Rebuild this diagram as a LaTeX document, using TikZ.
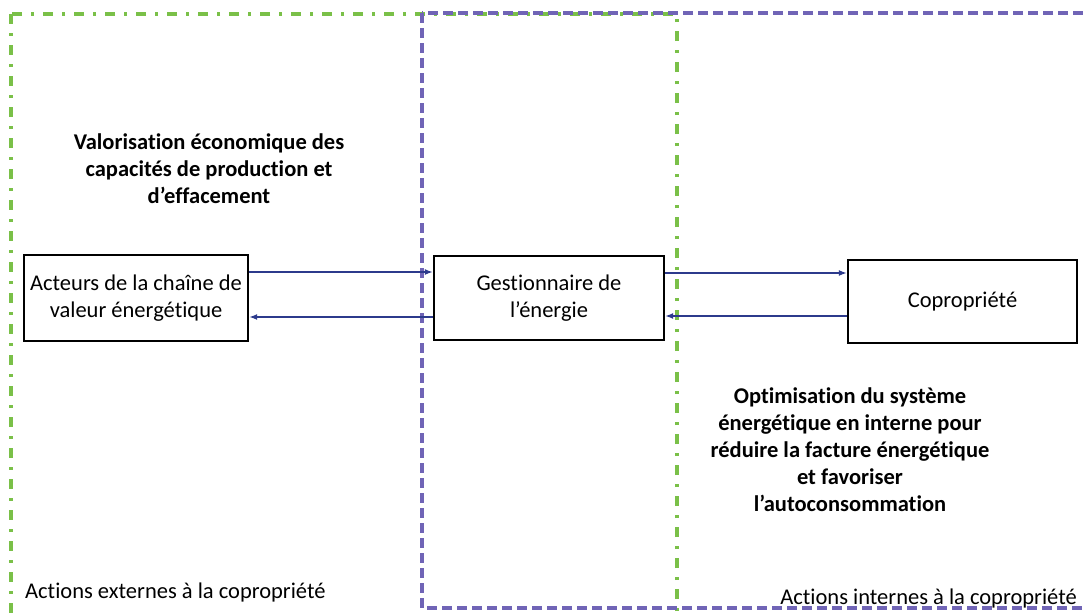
\documentclass[tikz,border=0pt]{standalone}
\usepackage{fontspec}
\usetikzlibrary{arrows.meta}
\setmainfont{Carlito}[Ligatures=NoCommon]
\definecolor{zgreen}{RGB}{122,192,72}
\definecolor{zpurple}{RGB}{112,100,182}
\definecolor{zarrow}{RGB}{44,58,140}
\begin{document}
\begin{tikzpicture}[x=1pt,y=-1pt,
  greenzone/.style={draw=zgreen,line width=3.2pt,dash pattern=on 10pt off 9pt on 3pt off 9pt},
  purplezone/.style={draw=zpurple,line width=3.2pt,dash pattern=on 10pt off 5pt},
  actor/.style={draw=black,line width=2.3pt,align=center,inner sep=0pt,font=\fontsize{22.5}{27}\selectfont},
  flow/.style={draw=zarrow,line width=1.6pt,-{Latex[length=8pt,width=6pt]}},
  note/.style={align=center,inner sep=0pt,font=\bfseries\fontsize{22.5}{27}\selectfont},
  zonelabel/.style={inner sep=0pt,font=\fontsize{22.5}{24}\selectfont}]
\useasboundingbox (0,0) rectangle (1083,613);
\clip (0,0) rectangle (1083,613);
\fill[white] (0,0) rectangle (1083,613);
\draw[greenzone] (11,14) rectangle (677,640);
\draw[purplezone] (422,13) rectangle (1110,608);
\node[actor,minimum width=224pt,minimum height=86pt] (A) at (136,298) {Acteurs de la chaîne de\\valeur énergétique};
\node[actor,minimum width=230pt,minimum height=84pt] (B) at (549,298) {Gestionnaire de\\l’énergie};
\node[actor,minimum width=229pt,minimum height=83pt] (C) at (962.5,301.5) {Copropriété};
\draw[flow] ([yshift=26pt]A.east) -- ([yshift=26pt]A.east -| B.west);
\draw[flow] ([yshift=-19pt]B.west) -- ([yshift=-19pt]B.west -| A.east);
\draw[flow] ([yshift=25pt]B.east) -- ([yshift=25pt]B.east -| C.west);
\draw[flow] ([yshift=-14.5pt]C.west) -- ([yshift=-14.5pt]C.west -| B.east);
\node[note] (N1) at (209,169) {Valorisation économique des\\capacités de production et\\d’effacement};
\node[note] (N2) at (850,450) {Optimisation du système\\énergétique en interne pour\\réduire la facture énergétique\\et favoriser\\l’autoconsommation};
\node[zonelabel,anchor=west] (L1) at (25,592) {Actions externes à la copropriété};
\node[zonelabel,anchor=east] (L2) at (1077,598) {Actions internes à la copropriété};
\end{tikzpicture}
\end{document}
